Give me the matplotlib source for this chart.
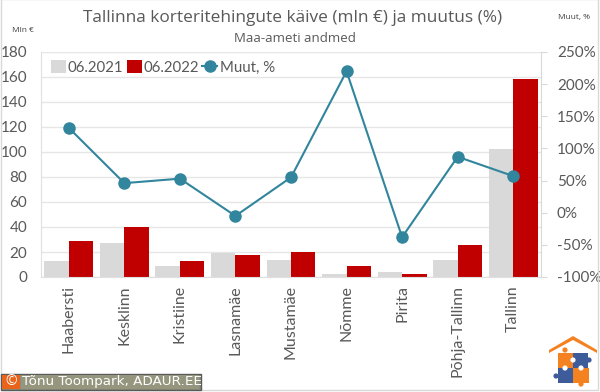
import matplotlib
matplotlib.use('Agg')
import matplotlib.pyplot as plt
from matplotlib.patches import Rectangle, Polygon, Circle

plt.rcParams['font.family'] = ['Open Sans', 'DejaVu Sans']

# andmed
linnaosad = ['Haabersti', 'Kesklinn', 'Kristiine', 'Lasnamäe', 'Mustamäe',
             'Nõmme', 'Pirita', 'Põhja-Tallinn', 'Tallinn']
kaive_2021 = [12.5, 27, 8.8, 19, 13.6, 2.5, 3.7, 14, 102]
kaive_2022 = [28.5, 40, 12.8, 17.6, 20.3, 9, 2.2, 26, 158]
muutus = [132, 46, 53, -5, 55, 220, -38, 87, 57]
vasak_ticks = [0, 20, 40, 60, 80, 100, 120, 140, 160, 180]
parem_ticks = [-100, -50, 0, 50, 100, 150, 200, 250]

W, H = 600, 392
tekst = '#595959'
sinine = '#31859C'

fig = plt.figure(figsize=(W / 100, H / 100), dpi=100)
ax = fig.add_axes([41 / W, 1 - 277 / H, 500 / W, 225 / H])
ax2 = ax.twinx()

x = list(range(len(linnaosad)))
laius = 0.44
b1 = ax.bar([i - laius / 2 for i in x], kaive_2021, laius, color='#D9D9D9', label='06.2021', zorder=2)
b2 = ax.bar([i + laius / 2 for i in x], kaive_2022, laius, color='#C00000', label='06.2022', zorder=2)
l1, = ax2.plot(x, muutus, color=sinine, lw=1.5, marker='o', ms=8, label='Muut, %', zorder=3)

ax.set_xlim(-0.5, 8.5)
ax.set_ylim(0, 180)
ax2.set_ylim(-100, 250)
ax.set_yticks(vasak_ticks)
ax2.set_yticks(parem_ticks)
ax2.set_yticklabels([f'{v}%' for v in parem_ticks])
ax.set_xticks(x)
ax.set_xticklabels(linnaosad, rotation=90)
ax.grid(axis='y', color='#E6E6E6', lw=1, zorder=0)
ax.set_axisbelow(True)

for a in (ax, ax2):
    for s in a.spines.values():
        s.set_visible(False)
ax.spines['left'].set_visible(True)
ax.spines['left'].set_color('#E0E0E0')
ax.spines['bottom'].set_visible(True)
ax.spines['bottom'].set_color('#E0E0E0')
ax2.spines['right'].set_visible(True)
ax2.spines['right'].set_color('#D9D9D9')

ax.tick_params(axis='x', length=0, labelsize=11.5, labelcolor=tekst, labelfontfamily='Lato', pad=6)
ax.tick_params(axis='y', length=0, labelsize=11, labelcolor=tekst, labelfontfamily='Lato', pad=10)
ax2.tick_params(axis='y', length=4.5, color='#D9D9D9', labelsize=11, labelcolor=tekst,
                labelfontfamily='Lato', pad=7)

ax.legend([b1, b2, l1], ['06.2021', '06.2022', 'Muut, %'], loc='upper left', ncol=3, frameon=False,
          prop={'family': 'Lato', 'size': 10.8}, labelcolor=tekst, handlelength=1.0, handleheight=0.9,
          handletextpad=0.15, columnspacing=0.2, bbox_to_anchor=(0.003, 1.0), borderaxespad=0.15)

fig.text(293 / W, 1 - 18 / H, 'Tallinna korteritehingute käive (mln €) ja muutus (%)', ha='center', va='center',
         fontsize=12.4, color=tekst)
fig.text(295 / W, 1 - 38 / H, 'Maa-ameti andmed', ha='center', va='center', fontsize=9.5, color=tekst)
fig.text(23 / W, 1 - 30 / H, 'Mln €', ha='center', va='center', fontsize=6, color='#404040')
fig.text(574 / W, 1 - 17 / H, 'Muut, %', ha='center', va='center', fontsize=6, color='#404040')

# kogu pildi kate: raam, copyright, logo
kate = fig.add_axes([0, 0, 1, 1], zorder=5)
kate.set_xlim(0, W)
kate.set_ylim(H, 0)
kate.axis('off')
kate.patch.set_alpha(0)
kate.add_patch(Rectangle((0.5, -1), 597, 391, fill=False, ec='#D9D9D9', lw=1))

kate.add_patch(Rectangle((0.5, 373.5), 200, 16, fc='#8C8C78', ec='#5A5A5A', lw=1))
kate.add_patch(Rectangle((2, 375), 18, 13.5, fc='#E8641B', ec='none'))
kate.add_patch(Rectangle((21, 375), 178, 13.5, fc='#96967F', ec='none'))
kate.text(11, 381.5, '©', ha='center', va='center', fontsize=10, color='white')
kate.text(22, 382, 'Tõnu Toompark, ADAUR.EE', ha='left', va='center', fontsize=9.7, color='white',
          family=['DejaVu Sans'])

oranz = '#F58220'
tumesinine = '#3F5C9A'
kate.add_patch(Rectangle((558, 353), 15, 15, fc=oranz, ec='none'))
kate.add_patch(Rectangle((573, 353), 15, 15, fc=tumesinine, ec='none'))
kate.add_patch(Rectangle((558, 368), 15, 15, fc=tumesinine, ec='none'))
kate.add_patch(Rectangle((573, 368), 16, 15, fc=oranz, ec='none'))
for cx, cy, c in [(565, 350, oranz), (589, 360, tumesinine), (556, 376, tumesinine),
                  (581, 384, oranz), (573, 360, 'white'), (565, 368, 'white'), (581, 368, 'white')]:
    kate.add_patch(Circle((cx, cy), 2.6, fc=c, ec='none'))
kate.add_patch(Polygon([(549, 350), (573, 336), (597, 350), (597, 353), (573, 340), (549, 353)],
                       closed=True, fc=oranz, ec='none'))

fig.savefig('out.png', dpi=100)
